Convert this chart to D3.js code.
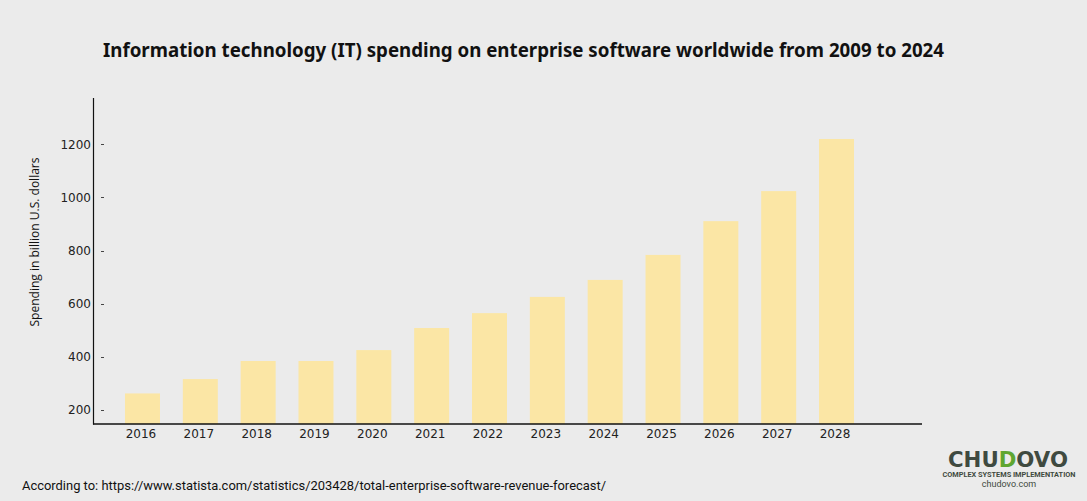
<!DOCTYPE html>
<html>
<head>
<meta charset="utf-8">
<script src="https://cdn.jsdelivr.net/npm/d3@7"></script>
<style>
  html, body { margin: 0; padding: 0; background: #ebebeb; }
  svg { display: block; }
</style>
</head>
<body>
<svg id="chart" width="1087" height="501"></svg>
<script>
const categories = ["2016","2017","2018","2019","2020","2021","2022","2023","2024","2025","2026","2027","2028"];
const values = [263, 317, 385, 385, 426, 509, 565, 626, 690, 784, 911, 1024, 1220];
const yTickValues = [200, 400, 600, 800, 1000, 1200];
const titleText = "Information technology (IT) spending on enterprise software worldwide from 2009 to 2024";
const yAxisTitle = "Spending in billion U.S. dollars";
const sourceText = "According to: https://www.statista.com/statistics/203428/total-enterprise-software-revenue-forecast/";

const svg = d3.select("#chart");
svg.append("rect").attr("width", 1087).attr("height", 501).attr("fill", "#ebebeb");

const x = d3.scaleBand().domain(categories).range([93, 886]).paddingInner(0.395).paddingOuter(0.553);
const y = d3.scaleLinear().domain([148, 1200]).range([424, 144.3]);

// title
svg.append("text")
  .attr("x", 103).attr("y", 57)
  .attr("font-family", "'Noto Sans', sans-serif")
  .attr("font-weight", "bold").attr("font-size", 20)
  .attr("fill", "#111")
  .attr("textLength", 841).attr("lengthAdjust", "spacingAndGlyphs")
  .text(titleText);

// bars
svg.append("g").selectAll("rect").data(categories).join("rect")
  .attr("x", d => x(d))
  .attr("width", x.bandwidth())
  .attr("y", (d, i) => y(values[i]))
  .attr("height", (d, i) => y.range()[0] - y(values[i]))
  .attr("fill", "#fbe6a5");

// y axis ticks (labels left of axis, dash right of axis)
const yAxis = svg.append("g");
yAxis.selectAll("text.lab").data(yTickValues).join("text")
  .attr("class", "lab")
  .attr("x", 91).attr("y", d => y(d))
  .attr("dy", "0.35em")
  .attr("text-anchor", "end")
  .attr("font-family", "'DejaVu Sans', sans-serif").attr("font-size", 12)
  .attr("fill", "#222")
  .text(d => d);
yAxis.selectAll("line.dash").data(yTickValues).join("line")
  .attr("class", "dash")
  .attr("x1", 101).attr("x2", 104)
  .attr("y1", d => Math.round(y(d)) + 0.5).attr("y2", d => Math.round(y(d)) + 0.5)
  .attr("stroke", "#444").attr("stroke-width", 1);

// axis lines
svg.append("line").attr("x1", 93.5).attr("x2", 93.5).attr("y1", 98).attr("y2", 424.5)
  .attr("stroke", "#111").attr("stroke-width", 1.2);
svg.append("line").attr("x1", 93).attr("x2", 922).attr("y1", 424).attr("y2", 424)
  .attr("stroke", "#111").attr("stroke-width", 1.4);

// x labels
svg.append("g").selectAll("text").data(categories).join("text")
  .attr("x", d => x(d) + x.bandwidth() / 2 - 1.5)
  .attr("y", 438)
  .attr("text-anchor", "middle")
  .attr("font-family", "'DejaVu Sans', sans-serif").attr("font-size", 12)
  .attr("fill", "#222")
  .text(d => d);

// y axis title
svg.append("text")
  .attr("transform", "translate(39,242) rotate(-90)")
  .attr("text-anchor", "middle")
  .attr("font-family", "'Open Sans', sans-serif").attr("font-size", 12.5)
  .attr("fill", "#111")
  .attr("textLength", 169).attr("lengthAdjust", "spacingAndGlyphs")
  .text(yAxisTitle);

// source
svg.append("text")
  .attr("x", 22).attr("y", 490)
  .attr("font-family", "'Roboto', sans-serif").attr("font-size", 13)
  .attr("fill", "#111")
  .attr("textLength", 584).attr("lengthAdjust", "spacingAndGlyphs")
  .text(sourceText);

// logo
const logo = svg.append("g");
const lt = logo.append("text")
  .attr("x", 948).attr("y", 467)
  .attr("font-family", "'DejaVu Sans', sans-serif").attr("font-weight", "bold").attr("font-size", 22)
  .attr("fill", "#3f4a40")
  .attr("textLength", 120).attr("lengthAdjust", "spacingAndGlyphs");
lt.append("tspan").text("CHU");
lt.append("tspan").attr("fill", "#5fa630").text("D");
lt.append("tspan").text("OVO");
logo.append("text")
  .attr("x", 1009).attr("y", 477)
  .attr("text-anchor", "middle")
  .attr("font-family", "'Roboto', sans-serif").attr("font-weight", "bold").attr("font-size", 7)
  .attr("fill", "#3f4a40")
  .attr("textLength", 133).attr("lengthAdjust", "spacingAndGlyphs")
  .text("COMPLEX SYSTEMS IMPLEMENTATION");
logo.append("text")
  .attr("x", 1009).attr("y", 487)
  .attr("text-anchor", "middle")
  .attr("font-family", "'Roboto', sans-serif").attr("font-size", 9)
  .attr("fill", "#3f4a40")
  .text("chudovo.com");
</script>
</body>
</html>
